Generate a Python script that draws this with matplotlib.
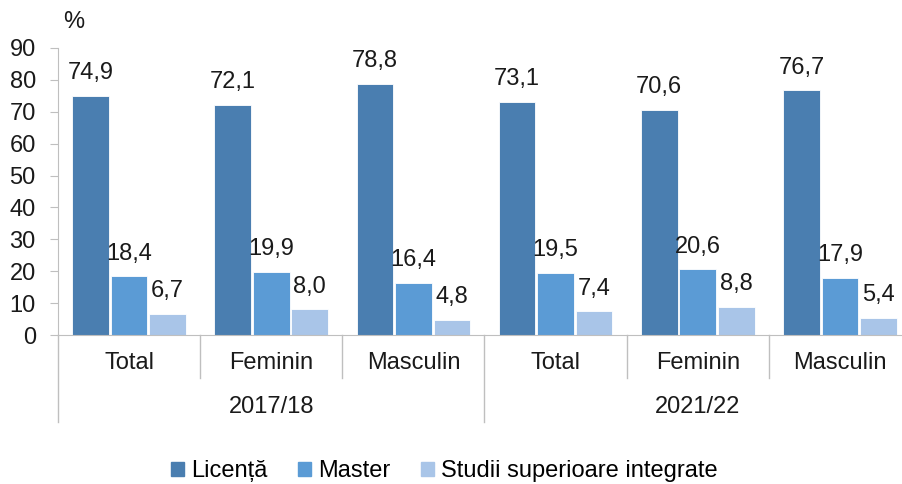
import matplotlib.pyplot as plt
import numpy as np
from matplotlib.lines import Line2D

plt.rcParams['font.family'] = ['Liberation Sans', 'DejaVu Sans']

categories = ['Total', 'Feminin', 'Masculin', 'Total', 'Feminin', 'Masculin']
years = ['2017/18', '2021/22']
series = ['Licență', 'Master', 'Studii superioare integrate']
licenta = [74.9, 72.1, 78.8, 73.1, 70.6, 76.7]
master = [18.4, 19.9, 16.4, 19.5, 20.6, 17.9]
integrate = [6.7, 8.0, 4.8, 7.4, 8.8, 5.4]
colors = ['#4a7eb0', '#5b9bd5', '#a9c5e8']

W, H = 903, 484
FS = 17
fig = plt.figure(figsize=(W / 100, H / 100), dpi=100)
ax = fig.add_axes([58 / W, 1 - 335 / H, 853 / W, 287 / H])

x = np.arange(len(categories))
bw = 0.258
offs = [-0.271, 0, 0.271]
for vals, off, col in zip([licenta, master, integrate], offs, colors):
    bars = ax.bar(x + off, vals, width=bw, color=col, edgecolor='white', linewidth=0.6)
    for b, v in zip(bars, vals):
        ax.annotate(f'{v:.1f}'.replace('.', ','), (b.get_x() + b.get_width() / 2, v),
                    xytext=(0, 12), textcoords='offset points', ha='center', va='baseline',
                    fontsize=FS, color='#1a1a1a')

ax.set_xlim(-0.5, len(categories) - 0.5)
ax.set_ylim(0, 90)
ax.set_yticks(range(0, 91, 10))
ax.set_xticks([])
for s in ['top', 'right']:
    ax.spines[s].set_visible(False)
ax.spines['left'].set_color('#bfbfbf')
ax.spines['bottom'].set_color('#bfbfbf')
ax.tick_params(axis='y', length=6, color='#bfbfbf', labelsize=FS, labelcolor='#1a1a1a', pad=10)

# category labels and separators
trans = ax.get_xaxis_transform()
h_px = 287
for i, c in enumerate(categories):
    ax.text(i, -28 / h_px, c, transform=trans, ha='center', va='center', fontsize=FS, color='#1a1a1a')
for i in range(len(categories) + 1):
    bound = i - 0.5
    low = -87 / h_px if i % 3 == 0 else -43 / h_px
    ax.add_line(Line2D([bound, bound], [0, low], transform=trans, color='#bfbfbf',
                       linewidth=1, clip_on=False))
for j, yr in enumerate(years):
    ax.text(3 * j + 1, -72 / h_px, yr, transform=trans, ha='center', va='center',
            fontsize=FS, color='#1a1a1a')

fig.text(74 / W, 1 - 22 / H, '%', ha='center', va='center', fontsize=FS, color='#1a1a1a')

handles = [plt.Rectangle((0, 0), 1, 1, color=c) for c in colors]
fig.legend(handles, series, loc='center', bbox_to_anchor=(0.492, 1 - 471 / H), ncol=3,
           frameon=False, fontsize=FS, handlelength=0.55, handleheight=0.55,
           handletextpad=0.3, columnspacing=1.3, borderpad=0)

fig.savefig('out.png', dpi=100)
